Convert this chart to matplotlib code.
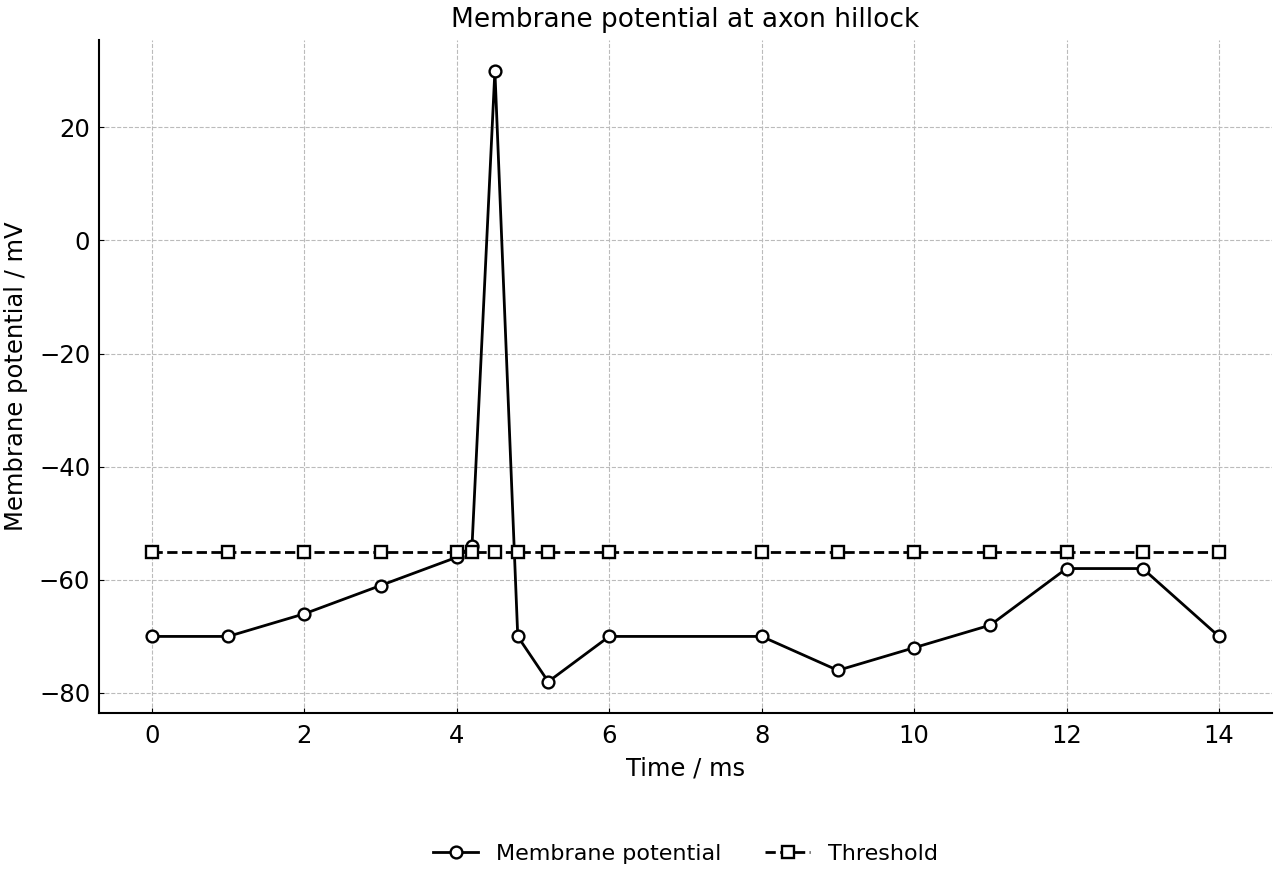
import matplotlib
matplotlib.use("Agg")
import matplotlib.pyplot as plt

# === DONNÉES ===
time_ms = [0, 1, 2, 3, 4, 4.2, 4.5, 4.8, 5.2, 6, 8, 9, 10, 11, 12, 13, 14]
membrane_mv = [-70, -70, -66, -61, -56, -54, 30, -70, -78, -70, -70, -76, -72, -68, -58, -58, -70]
threshold_mv = [-55] * len(time_ms)

plt.rcParams.update({
    "font.size": 17.5,
    "axes.titlesize": 19,
    "axes.labelsize": 17.5,
    "xtick.labelsize": 17.5,
    "ytick.labelsize": 17.5,
    "legend.fontsize": 16,
    "xtick.direction": "in",
    "ytick.direction": "in",
    "xtick.major.pad": 8,
    "ytick.major.pad": 6,
})

fig, ax = plt.subplots(figsize=(12.8, 8.8), dpi=100)

ax.plot(time_ms, membrane_mv, color="black", linewidth=2, marker="o",
        markersize=8.5, markerfacecolor="white", markeredgecolor="black",
        markeredgewidth=1.7, label="Membrane potential")
ax.plot(time_ms, threshold_mv, color="black", linewidth=2, linestyle="--",
        marker="s", markersize=8.5, markerfacecolor="white", markeredgecolor="black",
        markeredgewidth=1.7, label="Threshold")

ax.set_title("Membrane potential at axon hillock", pad=9)
ax.set_xlabel("Time / ms", labelpad=6)
ax.set_ylabel("Membrane potential / mV", labelpad=8)
ax.set_xticks(range(0, 15, 2))
ax.set_yticks(range(-80, 21, 20))
ax.set_xlim(-0.7, 14.7)
ax.set_ylim(-83.5, 35.5)

ax.grid(True, linestyle="--", color="#bbbbbb", linewidth=0.8)
ax.spines["top"].set_visible(False)
ax.spines["right"].set_visible(False)
ax.spines["left"].set_linewidth(1.5)
ax.spines["bottom"].set_linewidth(1.5)

ax.legend(loc="upper center", bbox_to_anchor=(0.5, -0.165), ncol=2, frameon=False,
          columnspacing=2)

fig.subplots_adjust(left=0.077, right=0.994, top=0.955, bottom=0.19)
fig.savefig("out.png", dpi=100)
